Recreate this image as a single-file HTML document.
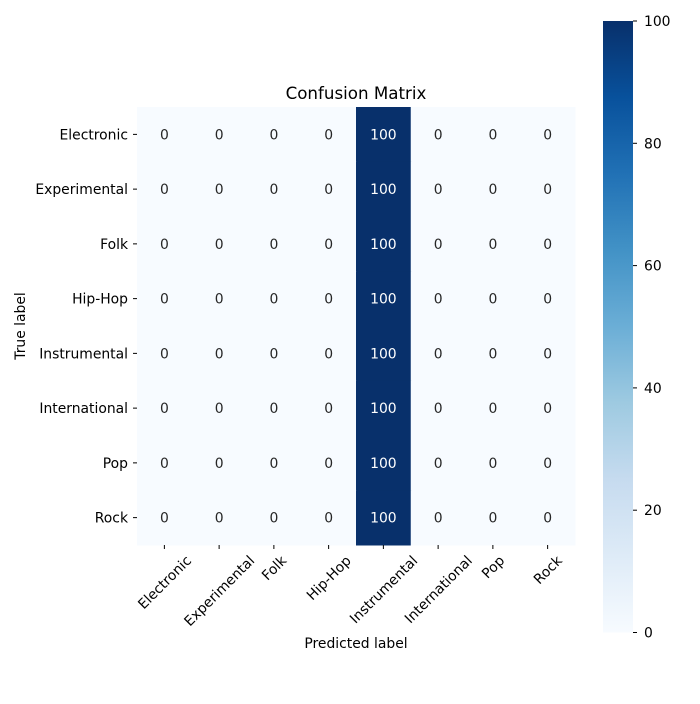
<!DOCTYPE html>
<html><head><meta charset="utf-8"><style>
body{margin:0;background:#fff;font-family:"DejaVu Sans","Liberation Sans",sans-serif;}
</style></head><body>
<svg id="chart" width="700" height="700" viewBox="0 0 700 700" xmlns="http://www.w3.org/2000/svg" font-family="DejaVu Sans, Liberation Sans, sans-serif">
<defs><linearGradient id="blues" x1="0" y1="1" x2="0" y2="0">
<stop offset="0" stop-color="#f7fbff"/><stop offset="0.125" stop-color="#deebf7"/><stop offset="0.25" stop-color="#c6dbef"/><stop offset="0.375" stop-color="#9ecae1"/><stop offset="0.5" stop-color="#6baed6"/><stop offset="0.625" stop-color="#4292c6"/><stop offset="0.75" stop-color="#2171b5"/><stop offset="0.875" stop-color="#08519c"/><stop offset="1" stop-color="#08306b"/>
</linearGradient></defs>
<text x="356" y="99" font-size="16.7" text-anchor="middle">Confusion Matrix</text>
<g id="cells"></g>
<rect x="603" y="21" width="30" height="611.5" fill="url(#blues)"/>
<g id="cbticks"></g>
<text x="356" y="648" font-size="13.9" text-anchor="middle">Predicted label</text>
<text transform="translate(25,326) rotate(-90)" font-size="13.9" text-anchor="middle">True label</text>
</svg>
<script>
const labels=["Electronic","Experimental","Folk","Hip-Hop","Instrumental","International","Pop","Rock"];
const matrix=[
[0,0,0,0,100,0,0,0],[0,0,0,0,100,0,0,0],[0,0,0,0,100,0,0,0],[0,0,0,0,100,0,0,0],
[0,0,0,0,100,0,0,0],[0,0,0,0,100,0,0,0],[0,0,0,0,100,0,0,0],[0,0,0,0,100,0,0,0]];
const cbTicks=[0,20,40,60,80,100];
const NS="http://www.w3.org/2000/svg";
const X0=137,Y0=107,S=438,n=labels.length,cw=S/n;
const vmax=100,FS=13.9;
const stops=["#f7fbff","#deebf7","#c6dbef","#9ecae1","#6baed6","#4292c6","#2171b5","#08519c","#08306b"];
function hex(h){return [1,3,5].map(i=>parseInt(h.substr(i,2),16));}
function color(v){let t=Math.max(0,Math.min(1,v/vmax))*(stops.length-1);let i=Math.min(Math.floor(t),stops.length-2);let f=t-i;let a=hex(stops[i]),b=hex(stops[i+1]);return "rgb("+a.map((c,k)=>Math.round(c+(b[k]-c)*f)).join(",")+")";}
function mk(tag,attrs,txt){const e=document.createElementNS(NS,tag);for(const k in attrs)e.setAttribute(k,attrs[k]);if(txt!==undefined)e.textContent=txt;return e;}
const g=document.getElementById('cells');
matrix.forEach((row,r)=>row.forEach((v,c)=>{
 const rc=mk('rect',{x:X0+c*cw,y:Y0+r*cw,width:cw+0.5,height:cw+0.5,fill:color(v)});
 
 
 g.appendChild(rc);
 const t=mk('text',{x:X0+(c+0.5)*cw,y:Y0+(r+0.5)*cw+5,'font-size':FS,'text-anchor':'middle',fill:v>50?'#fff':'#262626'},String(v));
 
 
 g.appendChild(t);
}));
labels.forEach((l,i)=>{
 const y=Y0+(i+0.5)*cw;
 g.appendChild(mk('line',{x1:X0-4,x2:X0,y1:y,y2:y,stroke:'#000'}));
 const t=mk('text',{x:X0-9,y:y+5,'font-size':FS,'text-anchor':'end'},l);
 
 
 g.appendChild(t);
 const x=X0+(i+0.5)*cw;
 g.appendChild(mk('line',{x1:x,x2:x,y1:Y0+S,y2:Y0+S+4,stroke:'#000'}));
 const tx=mk('text',{'font-size':FS,'text-anchor':'middle'},l);
 
 
 g.appendChild(tx);
 const L=tx.getComputedTextLength();
 const h=(L+FS)*0.7071;
 const cy=Y0+S+8+h/2;
 tx.setAttribute('transform',`translate(${x},${cy}) rotate(-45) translate(0,5)`);
});
const cb=document.getElementById('cbticks');
const cbTop=21,cbH=611.5;
cbTicks.forEach(v=>{
 const y=cbTop+cbH*(1-v/vmax);
 cb.appendChild(mk('line',{x1:633,x2:637,y1:y,y2:y,stroke:'#000'}));
 const t=mk('text',{x:644,y:y+5,'font-size':FS},String(v));
 
 
 cb.appendChild(t);
});
</script>
</body></html>
